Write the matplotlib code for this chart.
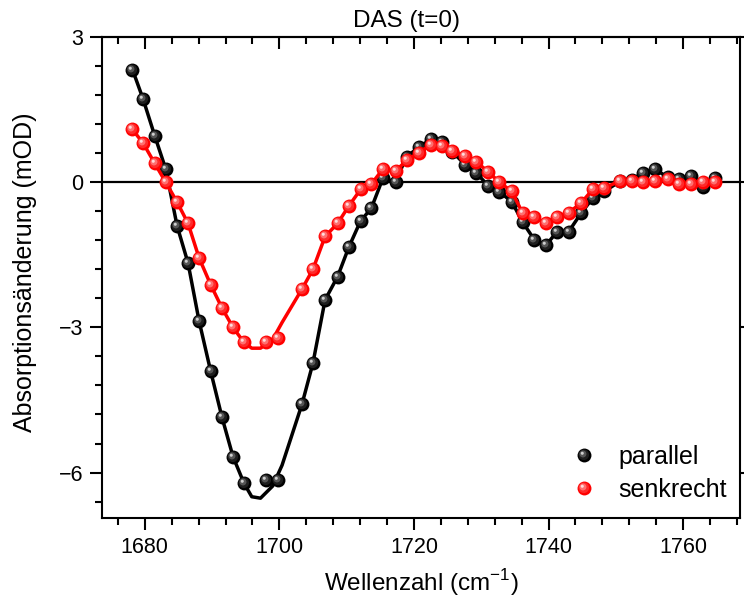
import numpy as np
import matplotlib
matplotlib.use('Agg')
import matplotlib.pyplot as plt
from matplotlib.path import Path
from matplotlib.legend_handler import HandlerTuple

plt.rcParams['font.family'] = ['Liberation Sans', 'DejaVu Sans']
plt.rcParams['mathtext.fontset'] = 'custom'
plt.rcParams['mathtext.rm'] = 'Liberation Sans'

# Messpunkte
wellenzahl = [1678.17, 1679.75, 1681.48, 1683.12, 1684.80, 1686.43, 1688.06, 1689.80,
              1691.48, 1693.11, 1694.74, 1698.07, 1699.79, 1703.36, 1704.99, 1706.80,
              1708.66, 1710.33, 1712.07, 1713.66, 1715.38, 1717.27, 1718.90, 1720.73,
              1722.47, 1724.14, 1725.73, 1727.62, 1729.29, 1731.08, 1732.71, 1734.54,
              1736.17, 1737.91, 1739.64, 1741.28, 1743.00, 1744.84, 1746.56, 1748.30,
              1750.63, 1752.35, 1754.09, 1755.87, 1757.70, 1759.44, 1761.11, 1763.00,
              1764.78]
parallel = [2.33, 1.72, 0.96, 0.27, -0.90, -1.67, -2.86, -3.91, -4.86, -5.67, -6.22,
            -6.15, -6.15, -4.59, -3.74, -2.43, -1.95, -1.34, -0.80, -0.54, 0.08, 0.01,
            0.53, 0.72, 0.89, 0.84, 0.63, 0.36, 0.19, -0.08, -0.20, -0.40, -0.83, -1.19,
            -1.30, -1.02, -1.02, -0.64, -0.33, -0.19, 0.02, 0.05, 0.20, 0.27, 0.10, 0.06,
            0.12, -0.09, 0.08]
senkrecht = [1.09, 0.81, 0.39, 0.0, -0.41, -0.85, -1.56, -2.12, -2.60, -3.00, -3.31,
             -3.31, -3.21, -2.21, -1.80, -1.12, -0.85, -0.49, -0.15, -0.04, 0.27, 0.23,
             0.45, 0.61, 0.77, 0.74, 0.65, 0.54, 0.42, 0.21, 0.0, -0.19, -0.64, -0.72,
             -0.85, -0.71, -0.63, -0.43, -0.15, -0.12, 0.03, 0.03, 0.01, 0.03, 0.07, -0.04,
             -0.04, 0.0, 0.0]

# Fitkurven
fit_x = [1678.17, 1679.75, 1681.48, 1683.12, 1684.80, 1686.43, 1688.06, 1689.80,
         1691.48, 1693.11, 1694.74, 1695.9, 1697.2, 1699.0, 1700.4, 1703.36, 1704.99,
         1706.80, 1708.66, 1710.33, 1712.07, 1713.66, 1715.38, 1717.27, 1718.90,
         1720.73, 1722.47, 1724.14, 1725.73, 1727.62, 1729.29, 1731.08, 1732.71,
         1734.54, 1736.17, 1737.91, 1739.64, 1741.28, 1743.00, 1744.84, 1746.56,
         1748.30, 1750.63, 1752.35, 1754.09, 1755.87, 1757.70, 1759.44, 1761.11,
         1763.00, 1764.78]
fit_parallel = [2.33, 1.72, 0.96, 0.27, -0.90, -1.67, -2.86, -3.91, -4.86, -5.67, -6.22,
                -6.50, -6.53, -6.28, -5.85, -4.59, -3.74, -2.43, -1.95, -1.34, -0.80,
                -0.54, 0.08, 0.01, 0.53, 0.72, 0.89, 0.84, 0.63, 0.36, 0.19, -0.08,
                -0.20, -0.40, -0.83, -1.19, -1.30, -1.02, -1.02, -0.64, -0.33, -0.19,
                0.02, 0.05, 0.20, 0.27, 0.10, 0.06, 0.12, -0.09, 0.08]
fit_senkrecht = [1.09, 0.81, 0.39, 0.0, -0.41, -0.85, -1.56, -2.12, -2.60, -3.00, -3.31,
                 -3.43, -3.43, -3.25, -2.90, -2.21, -1.80, -1.12, -0.85, -0.49, -0.15,
                 -0.04, 0.27, 0.23, 0.45, 0.61, 0.77, 0.74, 0.65, 0.54, 0.42, 0.21, 0.0,
                 -0.19, -0.64, -0.72, -0.85, -0.71, -0.63, -0.43, -0.15, -0.12, 0.03,
                 0.03, 0.01, 0.03, 0.07, -0.04, -0.04, 0.0, 0.0]


def kugel_pfad(cx, cy, r):
    # Kreis versetzt, mit unsichtbarem Eckpunkt damit die Skalierung gleich bleibt
    kreis = Path.circle((cx, cy), r)
    verts = np.vstack([[[0.5, 0.5]], kreis.vertices])
    codes = np.concatenate([[Path.MOVETO], kreis.codes])
    return Path(verts, codes)


schichten = [(0.0, 0.0, 0.5), (-0.05, 0.05, 0.38), (-0.11, 0.11, 0.25), (-0.16, 0.16, 0.11)]
farben = {
    'parallel': ['#000000', '#1e1e1e', '#555555', '#d0d0d0'],
    'senkrecht': ['#ff0000', '#ff2a2a', '#ff6f6f', '#ffdcdc'],
}

fig = plt.figure(figsize=(7.44, 6.08), dpi=100)
ax = fig.add_axes([0.1367, 0.148, 0.8583, 0.791])

ax.axhline(0, color='black', lw=1.6, zorder=1)

handles = {}
for name, ydata, fit, z in [('parallel', parallel, fit_parallel, 2),
                            ('senkrecht', senkrecht, fit_senkrecht, 4)]:
    col = farben[name][0]
    ax.plot(fit_x, fit, color=col, lw=2.5, zorder=z)
    hs = []
    for (cx, cy, r), c in zip(schichten, farben[name]):
        h, = ax.plot(wellenzahl, ydata, ls='none', marker=kugel_pfad(cx, cy, r),
                     markersize=10, markerfacecolor=c, markeredgewidth=0, zorder=z + 0.5)
        hs.append(h)
    handles[name] = tuple(hs)

ax.set_xlim(1673.6, 1768.5)
ax.set_ylim(-6.94, 3.0)
ax.set_xticks([1680, 1700, 1720, 1740, 1760])
ax.set_xticks(np.arange(1676, 1769, 4), minor=True)
ax.set_yticks([-6, -3, 0, 3])
ax.set_yticks(np.arange(-6.6, 3.01, 0.6), minor=True)

for s in ax.spines.values():
    s.set_linewidth(1.5)

ax.tick_params(axis='both', which='major', labelsize=15.5, width=1.5, length=8.4, pad=5)
ax.tick_params(axis='both', which='minor', width=1.5, length=4.8)
ax.tick_params(axis='both', which='both', direction='out')
ax.tick_params(axis='y', which='major', right=True)

# obere Achse mit Ticks nach innen
oben = ax.secondary_xaxis('top')
oben.set_xticks([1680, 1700, 1720, 1740, 1760])
oben.set_xticks(np.arange(1676, 1769, 4), minor=True)
oben.tick_params(which='major', direction='in', length=8.4, width=1.5, labeltop=False)
oben.tick_params(which='minor', direction='in', length=4.8, width=1.5)
oben.spines['top'].set_linewidth(1.5)

ax.set_xlabel('Wellenzahl (cm$^{-1}$)', fontsize=17.5, labelpad=7)
ax.set_ylabel('Absorptionsänderung (mOD)', fontsize=18)
ax.yaxis.set_label_coords(-0.102, 0.51)
ax.set_title('DAS (t=0)', fontsize=17.5, x=0.478, pad=7)

ax.legend([handles['parallel'], handles['senkrecht']], ['parallel', 'senkrecht'],
          handler_map={tuple: HandlerTuple(ndivide=1, pad=0)},
          loc='upper left', bbox_to_anchor=(0.772, 0.268), bbox_transform=fig.transFigure,
          frameon=False, fontsize=18, handlelength=0.8, handletextpad=0.95,
          labelspacing=0.36, borderaxespad=0, borderpad=0)

fig.savefig('out.png', dpi=100)
